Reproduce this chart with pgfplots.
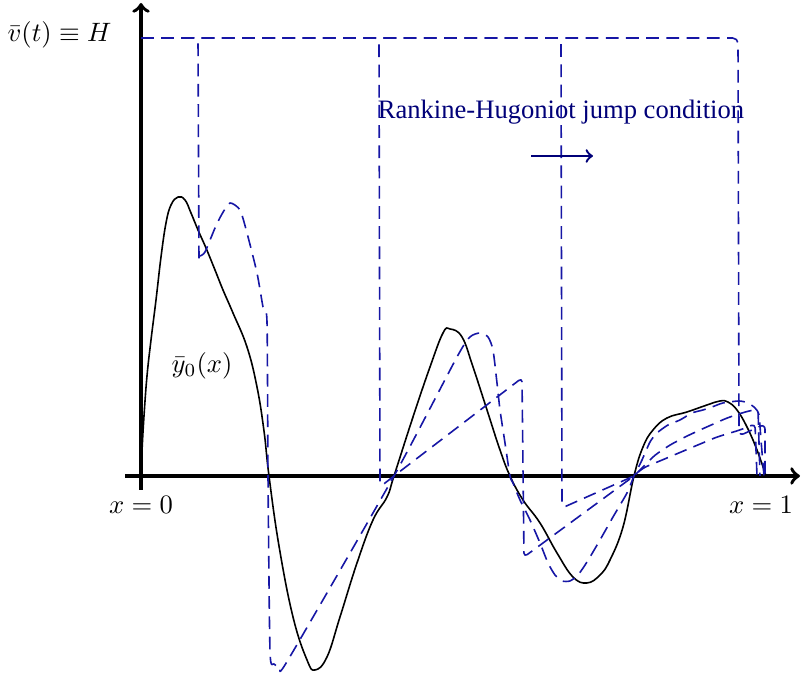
\documentclass[border=0pt]{standalone}
\usepackage{fontspec}
\setmainfont{Liberation Serif}
\usepackage{pgfplots}
\pgfplotsset{compat=1.18}
\definecolor{dashblue}{RGB}{22,22,165}
\definecolor{rhnavy}{RGB}{0,0,120}

\begin{document}
\begin{tikzpicture}
\begin{axis}[
  scale only axis,
  width=302pt, height=254.6pt,
  xmin=-141, xmax=662,
  ymin=-201, ymax=476,
  hide axis,
  clip=false,
]
\pgfplotsset{every axis plot/.append style={line join=round}}
% keep the whole axis area in the bounding box
\path (axis cs:-141,-201) rectangle (axis cs:662,476);
% axes
\draw[->, line width=1.35pt] (axis cs:-16,0) -- (axis cs:659,0);
\draw[->, line width=1.35pt] (axis cs:0,-14) -- (axis cs:0,473);

% initial profile y0(x)
\addplot[black, line width=0.6pt, smooth, tension=0.7] coordinates {
  (0,0) (1,25) (3,60) (6,100) (10,136) (15,176) (20,219) (25,253)
  (30,271) (37,279) (44,276) (50,263) (57,246) (65,228) (74,206)
  (82,186) (92,163) (106,129) (116,89) (123,45) (128,0)
  (138,-70) (152,-141) (166,-184) (174,-194) (186,-181) (199,-141)
  (216,-87) (232,-44) (246,-21) (253,0) (272,59) (289,109) (302,143)
  (309,147) (321,139) (332,109) (346,66) (359,26) (369,0) (382,-24)
  (399,-47) (416,-77) (432,-101) (446,-107) (459,-99) (469,-84)
  (482,-51) (493,0) (502,29) (512,46) (526,58) (546,64) (566,71)
  (579,75) (587,74) (596,66) (606,49) (616,26) (625,0)
};

% first time: shock near x=0.09
\addplot[dashblue, line width=0.6pt, dash pattern=on 4.8pt off 2.8pt,
  rounded corners=1.5pt] coordinates {
  (0,438) (57,438) (58,214)
};
\addplot[dashblue, line width=0.6pt, dash pattern=on 4.8pt off 2.8pt,
  smooth, tension=0.4] coordinates {
  (59,220) (64,224) (74,248) (81,262) (89,273) (99,266) (106,243)
  (116,203) (122,169) (126,154) (127,0) (129,-175) (133,-188)
  (139,-191) (147,-184) (253,0) (316,119) (329,139) (339,143)
  (347,139) (352,126) (356,93) (359,66) (364,33) (369,0) (372,-7)
  (379,-24) (389,-44) (399,-67) (407,-87) (414,-99) (421,-105)
  (429,-105) (437,-99) (446,-86) (459,-64) (472,-41) (486,-17)
  (493,0) (496,6) (501,16) (509,34) (516,43) (527,51) (539,56)
  (551,63) (562,66) (571,69) (582,73) (598,75) (607,73) (614,68)
  (618,61) (620,36) (623,0)
};

% second time: shock near x=0.38
\addplot[dashblue, line width=0.6pt, dash pattern=on 4.8pt off 2.8pt,
  rounded corners=1.5pt] coordinates {
  (0,438) (238,438) (239,-11) (253,0) (381,98) (383,-81) (493,0)
  (499,6) (514,21) (529,31) (544,39) (559,46) (586,58) (604,64)
  (617,67) (619,0)
};

% third time: shock near x=0.67
\addplot[dashblue, line width=0.6pt, dash pattern=on 4.8pt off 2.8pt,
  rounded corners=1.5pt] coordinates {
  (0,438) (420,438) (421,-32) (493,0) (502,8) (526,18) (552,29)
  (576,39) (599,46) (614,52) (616,0)
};

% fourth time: shock near x=0.955
\addplot[dashblue, line width=0.6pt, dash pattern=on 4.8pt off 2.8pt,
  rounded corners=2pt] coordinates {
  (0,438) (597,438) (598,40) (624,52) (624,0)
};

% labels
\node[inner sep=0pt, anchor=east] at (axis cs:-29,441) {$\bar{v}(t)\equiv H$};
\node[inner sep=0pt] at (axis cs:61,110) {$\bar{y}_0(x)$};
\node[inner sep=0pt] at (axis cs:0,-29) {$x=0$};
\node[inner sep=0pt] at (axis cs:620,-29) {$x=1$};
\node[rhnavy] at (axis cs:420,364) {Rankine-Hugoniot jump condition};
\draw[->, rhnavy, line width=0.9pt] (axis cs:390,320) -- (axis cs:452,320);
\end{axis}
\end{tikzpicture}
\end{document}
